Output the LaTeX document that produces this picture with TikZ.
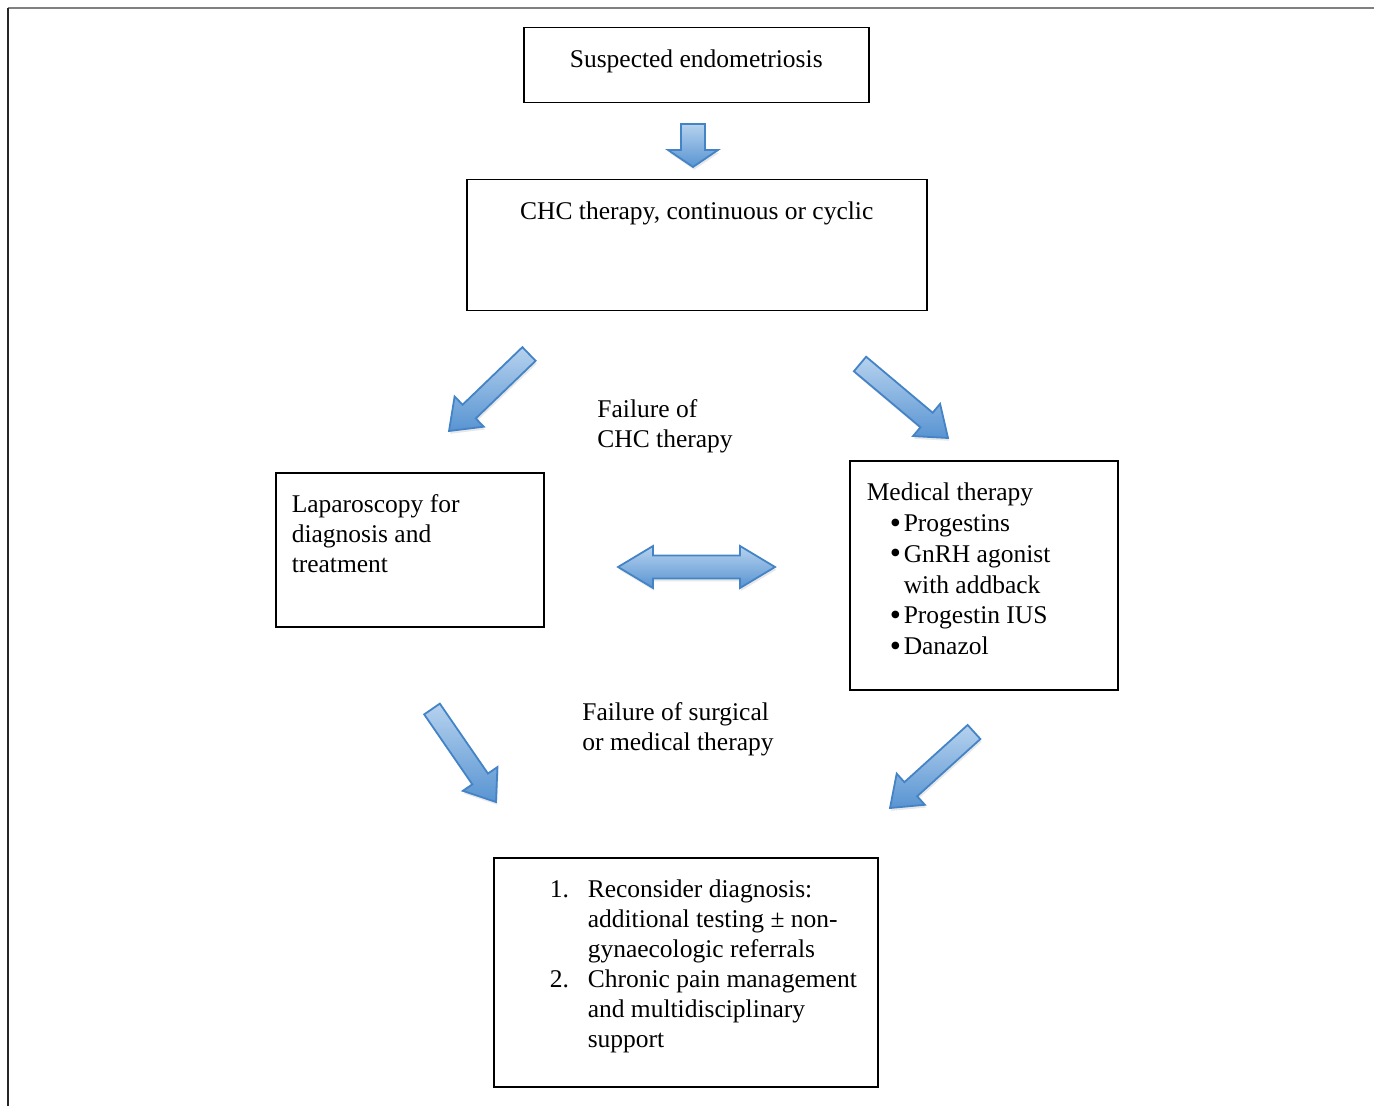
\documentclass[tikz,border=0pt]{standalone}
\usepackage{fontspec}
\setmainfont{Liberation Serif}
\usetikzlibrary{calc,shadows}

\definecolor{arrowedge}{RGB}{68,132,198}
\definecolor{arrowlight}{RGB}{182,210,238}
\definecolor{arrowdark}{RGB}{88,148,210}

% text set in a fixed size box, top aligned
\newcommand{\boxtext}[3]{\parbox[c][#2][t]{#1}{\vspace*{9.5pt}#3}}
\newcommand{\itembullet}{\makebox[7pt][l]{\raisebox{-0.8pt}{\scalebox{1.25}{\textbullet}}}}
% tail, tip, half shaft, half head, head length
\newcommand{\blockarrow}[5]{%
  \path ($(#2)!#5!(#1)$) coordinate (hb);
  \draw[fat] ($(#1)!#3!90:(#2)$) -- ($(hb)!#3!90:(#2)$) -- ($(hb)!#4!90:(#2)$) -- (#2)
    -- ($(hb)!#4!-90:(#2)$) -- ($(hb)!#3!-90:(#2)$) -- ($(#1)!#3!-90:(#2)$) -- cycle;}
\newcommand{\doublearrow}[5]{%
  \path ($(#1)!#5!(#2)$) coordinate (hl) ($(#2)!#5!(#1)$) coordinate (hr);
  \draw[fat] (#1) -- ($(hl)!#4!90:(#2)$) -- ($(hl)!#3!90:(#2)$) -- ($(hr)!#3!-90:(#1)$)
    -- ($(hr)!#4!-90:(#1)$) -- (#2) -- ($(hr)!#4!90:(#1)$) -- ($(hr)!#3!90:(#1)$)
    -- ($(hl)!#3!-90:(#2)$) -- ($(hl)!#4!-90:(#2)$) -- cycle;}

\tikzset{
  box/.style={draw, line width=0.75pt, inner sep=0pt, anchor=north west, font=\fontsize{12.75}{15}\selectfont},
  note/.style={anchor=west, align=left, inner sep=0pt, font=\fontsize{12.75}{15}\selectfont},
  fat/.style={draw=arrowedge, line width=0.9pt, top color=arrowlight, bottom color=arrowdark,
    drop shadow={shadow xshift=0.6pt, shadow yshift=-1.4pt, opacity=0.18}}
}

\begin{document}
\begin{tikzpicture}[x=0.5pt, y=-0.5pt]
\useasboundingbox (0,0) rectangle (1374,1106);
\draw[black!50, line width=1pt] (8,8) -- (1374,8);
\draw[black!85, line width=0.8pt] (8,8) -- (8,1106);

\node[box] (suspect) at (523,27) {\boxtext{172.5pt}{37.5pt}{\centering\strut Suspected endometriosis}};
\node[box] (chc) at (466,179) {\boxtext{230pt}{65.5pt}{\centering\strut CHC therapy, continuous or cyclic}};
\node[box] (lap) at (275,472) {\boxtext{134pt}{77pt}{\leftskip=8pt\strut Laparoscopy for\\diagnosis and\\treatment}};
\node[box] (med) at (849,460) {\boxtext{134pt}{114.5pt}{\leftskip=8.5pt\baselineskip=15.4pt\strut Medical therapy\\
  \hspace*{11.5pt}\itembullet Progestins\\
  \hspace*{11.5pt}\itembullet GnRH agonist\\
  \hspace*{18.5pt}with addback\\
  \hspace*{11.5pt}\itembullet Progestin IUS\\
  \hspace*{11.5pt}\itembullet Danazol}};
\node[box] (recon) at (493,857) {\boxtext{192pt}{114.5pt}{\strut
  \hspace*{28pt}\makebox[19pt][l]{1.}Reconsider diagnosis:\\
  \hspace*{47pt}additional testing ± non-\\
  \hspace*{47pt}gynaecologic referrals\\
  \hspace*{28pt}\makebox[19pt][l]{2.}Chronic pain management\\
  \hspace*{47pt}and multidisciplinary\\
  \hspace*{47pt}support}};

\node[note] (failchc) at (597,426) {Failure of\\CHC therapy};
\node[note] (failall) at (582,729) {Failure of surgical\\or medical therapy};

% block arrows
\coordinate (s1) at (693,124);
\coordinate (s2) at (693,167);
\coordinate (l1) at (529,354);
\coordinate (l2) at (449,431);
\coordinate (r1) at (860,364);
\coordinate (r2) at (948,438);
\coordinate (m1) at (618,567);
\coordinate (m2) at (775,567);
\coordinate (ll1) at (432,709);
\coordinate (ll2) at (496,802);
\coordinate (lr1) at (974,732);
\coordinate (lr2) at (890,808);

\blockarrow{s1}{s2}{6pt}{12.5pt}{8.5pt}
\blockarrow{l1}{l2}{4.75pt}{10.5pt}{14pt}
\blockarrow{r1}{r2}{4.75pt}{10.5pt}{14pt}
\blockarrow{ll1}{ll2}{4.75pt}{10.5pt}{14pt}
\blockarrow{lr1}{lr2}{4.75pt}{10.5pt}{14pt}
\doublearrow{m1}{m2}{5.75pt}{10.5pt}{17.5pt}
\end{tikzpicture}
\end{document}
